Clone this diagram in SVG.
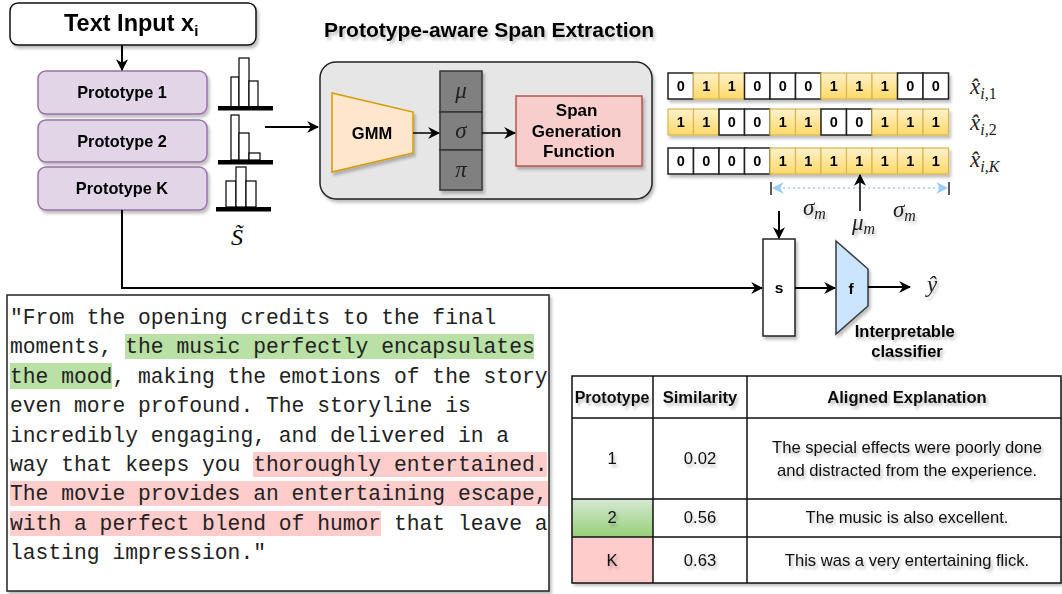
<svg xmlns="http://www.w3.org/2000/svg" width="1062" height="594" viewBox="0 0 1062 594">
  <defs>
    <style>
      .sans { font-family: "Liberation Sans", Arial, sans-serif; }
      .b { font-weight: bold; }
      .math { font-family: "Liberation Serif", "Times New Roman", serif; font-style: italic; }
      .mono { font-family: "Liberation Mono", "Courier New", monospace; font-size: 21.33px; fill: #222; }
      .proto { fill: #e1d5e7; stroke: #9673a6; stroke-width: 1.5; }
      .bar { fill: #fff; stroke: #000; stroke-width: 1.2; }
      .one { fill: url(#yel); stroke: #d6b656; stroke-width: 1.2; }
      .zero { fill: #fff; stroke: #222; stroke-width: 1.5; }
      .conn { fill: none; stroke: #000; stroke-width: 2; }
      .grid { fill: none; stroke: #111; stroke-width: 1.5; }
    </style>
    <linearGradient id="yel" x1="0" y1="0" x2="0" y2="1">
      <stop offset="0" stop-color="#fff2cc"/>
      <stop offset="1" stop-color="#ffd966"/>
    </linearGradient>
    <linearGradient id="grn" x1="0" y1="0" x2="0" y2="1">
      <stop offset="0" stop-color="#d5e8d4"/>
      <stop offset="1" stop-color="#97d077"/>
    </linearGradient>
    <filter id="sh" x="-20%" y="-20%" width="150%" height="150%">
      <feDropShadow dx="2" dy="3" stdDeviation="1.8" flood-color="#000" flood-opacity="0.25"/>
    </filter>
    <marker id="ah" viewBox="0 0 10 10" refX="9" refY="5" markerWidth="12" markerHeight="12" markerUnits="userSpaceOnUse" orient="auto">
      <path d="M0,0 L10,5 L0,10 L3,5 z" fill="#000"/>
    </marker>
    <marker id="ahb" viewBox="0 0 10 10" refX="9" refY="5" markerWidth="12" markerHeight="12" markerUnits="userSpaceOnUse" orient="auto-start-reverse">
      <path d="M0,0 L10,5 L0,10 L3,5 z" fill="#99ccff"/>
    </marker>
  </defs>

  <rect width="1062" height="594" fill="#fff"/>

  <!-- input -->
  <g id="text-input" filter="url(#sh)">
    <rect x="10" y="3" width="246" height="42" rx="8" fill="#fff" stroke="#111" stroke-width="1.5"/>
    <text x="64" y="31" class="sans b" font-size="23.5">Text Input x<tspan font-size="15" dy="5">i</tspan></text>
  </g>

  <!-- prototypes -->
  <g id="prototype-1" filter="url(#sh)">
    <rect x="38" y="71" width="169" height="43" rx="8" class="proto"/>
    <text x="122" y="98" class="sans b" font-size="16.3" text-anchor="middle">Prototype 1</text>
  </g>
  <g id="prototype-2" filter="url(#sh)">
    <rect x="38" y="120" width="169" height="42" rx="8" class="proto"/>
    <text x="122" y="147" class="sans b" font-size="16.3" text-anchor="middle">Prototype 2</text>
  </g>
  <g id="prototype-k" filter="url(#sh)">
    <rect x="38" y="167" width="169" height="43" rx="8" class="proto"/>
    <text x="122" y="194" class="sans b" font-size="16.3" text-anchor="middle">Prototype K</text>
  </g>

  <!-- similarity histograms -->
  <g id="histograms">
    <rect x="231" y="77" width="8" height="30" class="bar"/>
    <rect x="239" y="58" width="10" height="49" class="bar"/>
    <rect x="249" y="81" width="9" height="26" class="bar"/>
    <rect x="218" y="106" width="55" height="4.5" fill="#000"/>

    <rect x="231" y="115" width="8" height="45" class="bar"/>
    <rect x="239" y="133" width="10" height="27" class="bar"/>
    <rect x="249" y="153" width="11" height="7" class="bar"/>
    <rect x="218" y="160" width="55" height="4.5" fill="#000"/>

    <rect x="226" y="181" width="10" height="26" class="bar"/>
    <rect x="236" y="167" width="10" height="40" class="bar"/>
    <rect x="246" y="181" width="10" height="26" class="bar"/>
    <rect x="216" y="207" width="55" height="4.5" fill="#000"/>

    <text x="231" y="245" class="math" font-size="24">S̃</text>
  </g>

  <!-- span extraction module -->
  <g id="span-extraction">
    <text x="489" y="37" class="sans b" font-size="21" text-anchor="middle" filter="url(#sh)">Prototype-aware Span Extraction</text>
    <rect x="320" y="62" width="332" height="137" rx="16" fill="#e6e6e6" stroke="#222" stroke-width="1.5" filter="url(#sh)"/>
  </g>
  <g id="gmm" filter="url(#sh)">
    <path d="M332,93 L413,112 L413,153 L332,172 Z" fill="#ffe6cc" stroke="#d79b00" stroke-width="1.5"/>
    <text x="372" y="139" class="sans b" font-size="16.5" text-anchor="middle">GMM</text>
  </g>
  <g id="params" filter="url(#sh)">
    <rect x="440" y="71" width="42" height="41" fill="#808080" stroke="#333" stroke-width="1.5"/>
    <rect x="440" y="112" width="42" height="38" fill="#808080" stroke="#333" stroke-width="1.5"/>
    <rect x="440" y="150" width="42" height="40" fill="#808080" stroke="#333" stroke-width="1.5"/>
    <text x="461" y="98" class="math" font-size="23" text-anchor="middle" fill="#222">μ</text>
    <text x="461" y="138" class="math" font-size="23" text-anchor="middle" fill="#222">σ</text>
    <text x="461" y="177" class="math" font-size="23" text-anchor="middle" fill="#222">π</text>
  </g>
  <g id="span-generation" filter="url(#sh)">
    <rect x="516" y="96" width="126" height="70" fill="#f8cecc" stroke="#b85450" stroke-width="1.5"/>
    <text class="sans b" font-size="17" text-anchor="middle">
      <tspan x="579" y="116">Span</tspan>
      <tspan x="579" y="137">Generation</tspan>
      <tspan x="579" y="157">Function</tspan>
    </text>
  </g>

  <!-- binary span masks -->
  <g id="mask-1" filter="url(#sh)" class="sans b" font-size="14.5" text-anchor="middle">
    <rect x="668" y="73" width="25.5" height="26" class="zero"/><text x="680.8" y="91">0</text>
    <rect x="693.5" y="73" width="25.5" height="26" class="one"/><text x="706.3" y="91">1</text>
    <rect x="719" y="73" width="25.5" height="26" class="one"/><text x="731.8" y="91">1</text>
    <rect x="744.5" y="73" width="25.5" height="26" class="zero"/><text x="757.3" y="91">0</text>
    <rect x="770" y="73" width="25.5" height="26" class="zero"/><text x="782.8" y="91">0</text>
    <rect x="795.5" y="73" width="25.5" height="26" class="zero"/><text x="808.3" y="91">0</text>
    <rect x="821" y="73" width="25.5" height="26" class="one"/><text x="833.8" y="91">1</text>
    <rect x="846.5" y="73" width="25.5" height="26" class="one"/><text x="859.3" y="91">1</text>
    <rect x="872" y="73" width="25.5" height="26" class="one"/><text x="884.8" y="91">1</text>
    <rect x="897.5" y="73" width="25.5" height="26" class="zero"/><text x="910.3" y="91">0</text>
    <rect x="923" y="73" width="25.5" height="26" class="zero"/><text x="935.8" y="91">0</text>
  </g>
  <g id="mask-2" filter="url(#sh)" class="sans b" font-size="14.5" text-anchor="middle">
    <rect x="668" y="109" width="25.5" height="26" class="one"/><text x="680.8" y="127">1</text>
    <rect x="693.5" y="109" width="25.5" height="26" class="one"/><text x="706.3" y="127">1</text>
    <rect x="719" y="109" width="25.5" height="26" class="zero"/><text x="731.8" y="127">0</text>
    <rect x="744.5" y="109" width="25.5" height="26" class="zero"/><text x="757.3" y="127">0</text>
    <rect x="770" y="109" width="25.5" height="26" class="one"/><text x="782.8" y="127">1</text>
    <rect x="795.5" y="109" width="25.5" height="26" class="one"/><text x="808.3" y="127">1</text>
    <rect x="821" y="109" width="25.5" height="26" class="zero"/><text x="833.8" y="127">0</text>
    <rect x="846.5" y="109" width="25.5" height="26" class="zero"/><text x="859.3" y="127">0</text>
    <rect x="872" y="109" width="25.5" height="26" class="one"/><text x="884.8" y="127">1</text>
    <rect x="897.5" y="109" width="25.5" height="26" class="one"/><text x="910.3" y="127">1</text>
    <rect x="923" y="109" width="25.5" height="26" class="one"/><text x="935.8" y="127">1</text>
  </g>
  <g id="mask-k" filter="url(#sh)" class="sans b" font-size="14.5" text-anchor="middle">
    <rect x="668" y="148" width="25.5" height="26" class="zero"/><text x="680.8" y="166">0</text>
    <rect x="693.5" y="148" width="25.5" height="26" class="zero"/><text x="706.3" y="166">0</text>
    <rect x="719" y="148" width="25.5" height="26" class="zero"/><text x="731.8" y="166">0</text>
    <rect x="744.5" y="148" width="25.5" height="26" class="zero"/><text x="757.3" y="166">0</text>
    <rect x="770" y="148" width="25.5" height="26" class="one"/><text x="782.8" y="166">1</text>
    <rect x="795.5" y="148" width="25.5" height="26" class="one"/><text x="808.3" y="166">1</text>
    <rect x="821" y="148" width="25.5" height="26" class="one"/><text x="833.8" y="166">1</text>
    <rect x="846.5" y="148" width="25.5" height="26" class="one"/><text x="859.3" y="166">1</text>
    <rect x="872" y="148" width="25.5" height="26" class="one"/><text x="884.8" y="166">1</text>
    <rect x="897.5" y="148" width="25.5" height="26" class="one"/><text x="910.3" y="166">1</text>
    <rect x="923" y="148" width="25.5" height="26" class="one"/><text x="935.8" y="166">1</text>
  </g>

  <!-- mask labels -->
  <g id="mask-labels" class="math" fill="#222">
    <text x="970" y="94" font-size="23">x̂<tspan font-size="16" dy="5">i,</tspan><tspan font-size="16" font-style="normal">1</tspan></text>
    <text x="970" y="130" font-size="23">x̂<tspan font-size="16" dy="5">i,</tspan><tspan font-size="16" font-style="normal">2</tspan></text>
    <text x="970" y="167" font-size="23">x̂<tspan font-size="16" dy="5">i,K</tspan></text>
  </g>

  <!-- span width annotation -->
  <g id="span-width">
    <line x1="771" y1="182" x2="771" y2="195" stroke="#222" stroke-width="1.5"/>
    <line x1="949" y1="182" x2="949" y2="195" stroke="#222" stroke-width="1.5"/>
    <line x1="773" y1="188" x2="947" y2="188" stroke="#99ccff" stroke-width="1.5" stroke-dasharray="2 3" marker-start="url(#ahb)" marker-end="url(#ahb)"/>
    <g class="math" fill="#222" filter="url(#sh)">
      <text x="803" y="215" font-size="23">σ<tspan font-size="16" dy="4">m</tspan></text>
      <text x="893" y="217" font-size="23">σ<tspan font-size="16" dy="4">m</tspan></text>
      <text x="852" y="230" font-size="23">μ<tspan font-size="16" dy="4">m</tspan></text>
    </g>
  </g>

  <!-- classifier -->
  <g id="s-node" filter="url(#sh)">
    <rect x="763" y="239" width="32" height="97" fill="#fff" stroke="#222" stroke-width="1.5"/>
    <text x="779" y="293" class="sans b" font-size="15.5" text-anchor="middle">s</text>
  </g>
  <g id="f-node" filter="url(#sh)">
    <path d="M836,241 L868,269 L868,306 L836,334 Z" fill="#cce5ff" stroke="#36393d" stroke-width="1.5"/>
    <text x="851" y="294" class="sans b" font-size="15.5" text-anchor="middle">f</text>
    <text class="sans b" font-size="16.5" text-anchor="middle">
      <tspan x="907" y="337">Interpretable</tspan>
      <tspan x="907" y="357">classifier</tspan>
    </text>
  </g>
  <g id="output" class="math" fill="#222" filter="url(#sh)">
    <text x="927" y="292" font-size="23">ŷ</text>
  </g>

  <!-- connectors -->
  <g id="connectors" class="conn">
    <path d="M122,45 V70" marker-end="url(#ah)"/>
    <path d="M265,127 H318" marker-end="url(#ah)"/>
    <path d="M413,133 H439" marker-end="url(#ah)" stroke-width="1.5"/>
    <path d="M482,133 H515" marker-end="url(#ah)" stroke-width="1.5"/>
    <path d="M122,210 V288 H762" marker-end="url(#ah)"/>
    <path d="M779,211 V238" marker-end="url(#ah)"/>
    <path d="M795,288 H835" marker-end="url(#ah)"/>
    <path d="M868,287 H910" marker-end="url(#ah)"/>
    <path d="M860,211 V175" marker-end="url(#ah)" stroke-width="1.5"/>
  </g>

  <!-- review text -->
  <g id="review">
    <rect x="7" y="295" width="542" height="296" fill="#fff" stroke="#222" stroke-width="1.5" filter="url(#sh)"/>
    <rect x="125" y="334" width="409" height="25" fill="#b9e0a5"/>
    <rect x="10" y="363" width="102" height="26" fill="#b9e0a5"/>
    <rect x="253" y="452" width="294" height="25" fill="#ffcccc"/>
    <rect x="10" y="481" width="538" height="25" fill="#ffcccc"/>
    <rect x="10" y="511" width="371" height="25" fill="#ffcccc"/>
    <text class="mono">
      <tspan x="10" y="324">"From the opening credits to the final</tspan>
      <tspan x="10" y="353.4">moments, the music perfectly encapsulates</tspan>
      <tspan x="10" y="382.8">the mood, making the emotions of the story</tspan>
      <tspan x="10" y="412.2">even more profound. The storyline is</tspan>
      <tspan x="10" y="441.6">incredibly engaging, and delivered in a</tspan>
      <tspan x="10" y="471">way that keeps you thoroughly entertained.</tspan>
      <tspan x="10" y="500.4">The movie provides an entertaining escape,</tspan>
      <tspan x="10" y="529.8">with a perfect blend of humor that leave a</tspan>
      <tspan x="10" y="559.2">lasting impression."</tspan>
    </text>
  </g>

  <!-- explanation table -->
  <g id="table">
    <rect x="572" y="376" width="489" height="207" fill="#fff" filter="url(#sh)"/>
    <rect x="572" y="499" width="81" height="38" fill="url(#grn)"/>
    <rect x="572" y="537" width="81" height="46" fill="#ffcccc"/>
    <rect x="572" y="376" width="489" height="207" class="grid"/>
    <path d="M653,376 V583 M747,376 V583 M572,418 H1061 M572,499 H1061 M572,537 H1061" class="grid"/>
    <g class="sans" font-size="16.6" text-anchor="middle" fill="#111" filter="url(#sh)">
      <text x="612" y="403" class="b" font-size="16">Prototype</text>
      <text x="700" y="403" class="b">Similarity</text>
      <text x="907" y="403" class="b">Aligned Explanation</text>
      <text x="612" y="464">1</text>
      <text x="700" y="464">0.02</text>
      <text x="907" y="453">The special effects were poorly done</text>
      <text x="907" y="476">and distracted from the experience.</text>
      <text x="612" y="523">2</text>
      <text x="700" y="523">0.56</text>
      <text x="907" y="523">The music is also excellent.</text>
      <text x="612" y="566">K</text>
      <text x="700" y="566">0.63</text>
      <text x="907" y="566">This was a very entertaining flick.</text>
    </g>
  </g>
</svg>
